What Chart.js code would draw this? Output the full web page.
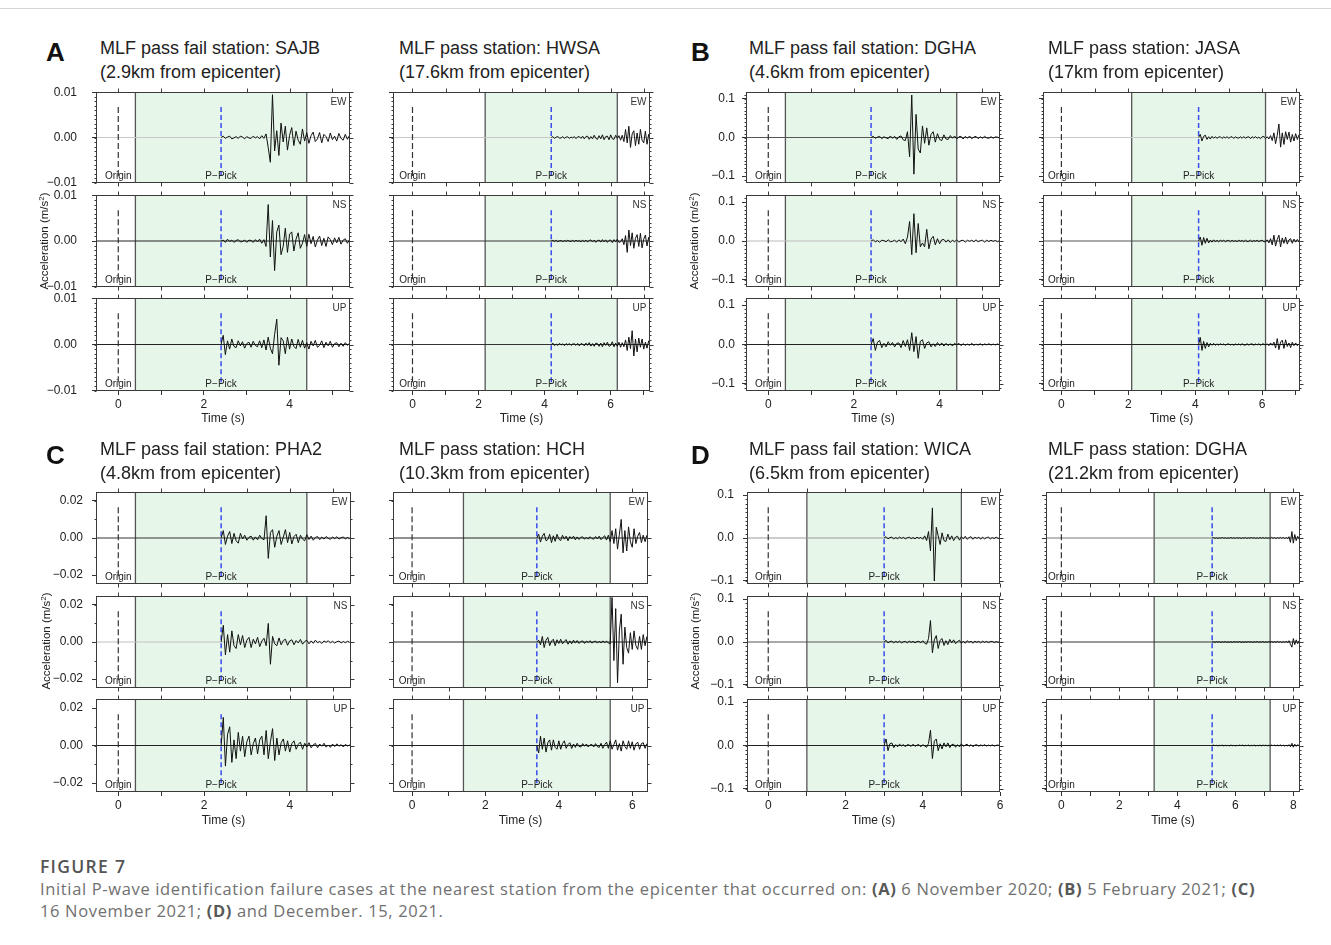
<!DOCTYPE html>
<html>
<head>
<meta charset="utf-8">
<script src="https://cdn.jsdelivr.net/npm/chart.js@4.4.1/dist/chart.umd.min.js"></script>
<style>
  body { margin: 0; background: #fff; }
  #fig { position: relative; width: 1331px; height: 945px; overflow: hidden; font-family: "Liberation Sans", Arial, sans-serif; color: #222; }
  #fig canvas { position: absolute; }
  .t { position: absolute; white-space: nowrap; }
  .letter { font-size: 26px; font-weight: bold; line-height: 30px; color: #111; }
  .title { font-size: 18px; line-height: 24px; color: #222; }
  .axt { font-size: 12px; line-height: 14px; transform: translate(-50%, -50%); }
  .rot { font-size: 11.5px; transform: translate(-50%, -50%) rotate(-90deg); }
  .rule { position: absolute; left: 0; top: 8px; width: 1331px; border-top: 1px solid #d6d6d6; }
  .fig7 { font-family: "Open Sans", "Noto Sans", sans-serif; font-weight: 600; font-size: 17.5px; line-height: 24px; color: #555; letter-spacing: 1.3px; }
  .cap { font-family: "Open Sans", "Noto Sans", sans-serif; font-size: 16.5px; line-height: 21.5px; color: #707070; letter-spacing: 0.65px; }
  .cap b { color: #585858; }
</style>
</head>
<body>
<div id="fig"><div class="rule"></div></div>
<script>
// ---- station info ----
const stationNames = ['SAJB', 'HWSA', 'DGHA', 'JASA', 'PHA2', 'HCH', 'WICA', 'DGHA'];
const stationKinds = ['MLF pass fail station', 'MLF pass station', 'MLF pass fail station', 'MLF pass station',
                      'MLF pass fail station', 'MLF pass station', 'MLF pass fail station', 'MLF pass station'];
const distances = ['2.9km', '17.6km', '4.6km', '17km', '4.8km', '10.3km', '6.5km', '21.2km'];
const pickTimes = [2.4, 4.2, 2.4, 4.1, 2.4, 3.4, 3.0, 5.2];
const windowStart = [0.4, 2.2, 0.4, 2.1, 0.4, 1.4, 1.0, 3.2];
const windowEnd = [4.4, 6.2, 4.4, 6.1, 4.4, 5.4, 5.0, 7.2];
const components = ['EW', 'NS', 'UP'];
const panelLetters = ['A', 'B', 'C', 'D'];

// ---- tick labels ----
const tickSeconds = [0, 1, 2, 3, 4, 5, 6, 7, 8];
const yTicksA = [-0.01, 0, 0.01];
const yTicksB = [-0.1, 0, 0.1];
const yTicksC = [-0.02, 0, 0.02];
const yTicksD = [-0.1, 0, 0.1];

// ---- traces, one sample every 0.05 s from the P-pick ----
const DT = 0.05;
const MILLI = 0.001;   // panels A and C values below are in 1e-3 m/s^2
const CENTI = 0.01;    // panels B and D values below are in 1e-2 m/s^2

const sajbEW = [0,.3,-.2,.1,.3,-.3,-.1,.2,-.2,.3,.1,-.3,.2,-.1,-.2,.3,-.1,.2,-.3,.4,-.2,
  .8,-2.2,-5.5,9.5,-3,1.5,-4,3.2,-1,2.5,-2.8,.5,2.2,-1.8,1.4,-.6,-1.5,1.9,-.8,1.1,
  -1.3,.4,1.2,-.9,-.3,1.1,-1.2,.7,.2,-.9,1,-.5,.3,-.8,.9,-.2,-.6,.7,-.4,.5];
const sajbNS = [0,.2,-.3,.4,-.1,.2,-.3,.1,.3,-.2,-.1,.2,-.3,.2,.1,-.3,.3,-.2,.4,-.5,.3,
  -1.2,8,-3.5,4.5,-6.5,2,3.5,-3,-1.2,2.8,-2.5,1.5,2,-2.2,.4,1.8,-1.6,-.5,1.4,-1.2,
  1.5,-.6,1,-1.3,.2,1.1,-1,.6,-1.2,.9,.3,-.8,.7,-.4,.8,-.7,.2,.5,-.5,.3];
const sajbUP = [0,2,-2.2,.8,-1,1.2,-.4,-.7,.8,-.3,.6,-.8,.2,.5,-.6,.7,-.2,-.5,.8,-.7,1,
  -1.2,1.6,-.8,-2,2.2,5.5,-4.5,1.5,.8,-2,1.6,-1,1.2,-.4,-.9,1.1,-.6,.9,-.8,.4,
  -1,.7,-.3,.9,-.6,-.2,.8,-.7,.5,-.3,.7,-.6,.2,.4,-.5,.3,-.4,.4,-.2,.3];

const hwsaEW = [0,.2,-.2,.1,.2,-.15,-.1,.2,-.2,.1,.15,-.2,.1,-.1,.2,-.25,.15,.2,-.2,.3,
  -.3,.2,.3,-.4,.2,-.3,.5,-.2,-.4,.4,-.3,.6,-.5,.2,.3,-.5,.6,-.3,-.4,.5,-.2,.4,-.6,.5,
  -.9,1.8,-1.2,2.5,-2.2,.8,1.5,-1.8,1,-1.5,1.8,-.6,-1.2,1.4,-1.5,.7,-1];
const hwsaNS = [0,.15,-.1,.15,-.15,.05,.1,-.15,.1,-.1,.15,-.05,-.1,.15,-.15,.2,-.1,.1,-.2,.15,
  -.15,.2,-.2,.1,.25,-.2,.2,-.3,.1,.2,-.25,.3,-.2,.25,-.3,.15,.2,-.35,.3,-.2,.4,-.3,-.2,.5,
  -.8,1.2,-2.5,2.4,-1,1.8,-1.6,.6,1.4,-1.2,1.7,-1.5,.4,1.3,-1.1,.8,-.9];
const hwsaUP = [0,.3,-.25,.1,-.2,.25,-.1,.15,-.25,.2,-.1,.2,-.2,.1,.15,-.2,.25,-.3,.2,.1,
  -.3,.3,-.2,.4,-.35,.2,-.4,.3,.2,-.4,.3,-.5,.4,-.2,.5,-.4,-.2,.6,-.5,.3,-.4,.5,-.6,.4,
  -.5,1,-1.3,1.6,-.9,3,-2.5,1.2,-1.6,1.4,-.6,1.2,-1,.5,-.8,.8,-.5];

const dghaEW = [0,.3,-.2,.1,.3,-.3,.2,-.1,-.3,.4,-.2,.3,-.5,.2,.4,-.6,-.8,1.5,
  -5,11,-9.5,6,-3,-4,3,-1.5,2.5,-2,.8,1.5,-1.2,1,-.5,-.8,.7,-.4,
  -.5,.5,-.2,.4,-.4,.2,.3,-.4,.3,-.2,.4,-.3,.1,.3,-.3,.2,-.2,.3,-.1,-.2,.2,-.2,.15,.1,-.2];
const dghaNS = [0,.3,-.2,.1,-.3,.2,.1,-.2,.3,-.2,-.1,.2,-.3,.3,-.2,.5,-.7,1,
  5,-3.5,7,-3,4.5,-1.5,-.5,-1.5,3,-2,.5,1.2,-1,.6,-.7,.3,.4,-.3,
  .3,-.4,.2,-.2,.3,-.3,.1,.2,-.3,.2,-.1,.2,-.2,.3,-.2,.1,.2,-.3,.2,-.15,.2,-.1,.15,-.2,.1];
const dghaUP = [0,1.5,-1.5,.6,1,-.8,.3,-.6,.7,-.2,.5,-.6,.3,.4,-.8,1,-.5,1.2,
  -1.5,3,-1.8,2,-3.5,.8,1.2,-1,.4,.7,-.6,.2,-.5,.5,-.3,.4,-.4,.3,
  -.3,.2,-.4,.3,-.1,.3,-.3,.2,-.2,.1,-.2,.3,-.2,.1,-.15,.2,-.2,.15,-.1,.2,-.15,.1,-.1,.15,-.1];

const jasaEW = [0,.8,-.9,.3,.6,-.5,.2,-.4,.3,-.2,
  .2,-.2,.1,.2,-.25,.15,-.1,.2,-.2,.1,.2,-.25,.2,-.1,-.15,.2,-.2,.25,-.2,.1,.2,-.3,.2,-.15,.25,-.2,.1,-.3,.2,.3,
  -.3,.2,-.4,.5,-.8,1.2,-1.6,.6,3.5,-2.5,1.2,-1.8,1.5,-.5,1.4,-1.2,.8,-.9,1,-.5,.7];
const jasaNS = [0,1,-1.1,.9,-.6,.7,-.5,.2,-.3,.3,
  -.2,.15,-.2,.2,-.1,.2,-.2,.1,.15,-.2,.2,-.15,.1,-.2,.2,-.1,.15,-.2,.2,-.15,-.1,.2,-.2,.15,-.1,.2,-.2,.1,.2,-.2,
  -.2,.3,-.5,.6,-1,1.5,-1.3,.4,1.5,-1.5,.8,-.6,1,-.8,.3,.6,-.6,.5,-.3,.4,-.3];
const jasaUP = [0,1.8,-1.5,.8,-1,.5,-.6,.3,-.2,.3,
  -.2,.15,-.15,.2,-.1,.15,-.2,.1,.15,-.15,.1,-.2,.15,-.1,.15,-.15,.2,-.1,-.15,.2,-.15,.1,.15,-.2,.15,-.1,.2,-.2,.1,.15,
  -.2,.2,-.3,.4,-.2,.6,-.9,1.5,-1.3,.6,1.1,-1,1.2,-.5,.4,-.8,.6,-.3,.4,-.3,.2];

const pha2EW = [0,4,-3.5,1,3.5,-3,2.5,-1.5,-2.8,2.5,-.5,1.5,-1.2,.4,1,-1.2,.6,-1,1.5,-.3,-1,
  12,-11,3,4.5,-5,1,4,-3.5,.5,4.5,-2.5,3,-3.2,.8,2,-2.5,1.5,-.6,-1.5,1.8,
  -.8,1,-1.2,.3,.8,-.9,.5,-.6,.8,-.2,-.7,.6,-.4,.7,-.6,.2,.5,-.5,.3,-.4];
const pha2NS = [0,9,-7,4,-5.5,6,-2,-3.5,4,-1.5,3.5,-3,1,2.5,-3,1.5,-1,2.5,-2.5,.5,2,
  -2,10,-12,3,-1,-2,2.2,-1.5,.8,1.5,-1.8,.6,1.2,-1.5,.8,-.5,1.4,-1.2,.3,.9,
  -1,.6,-.7,1,-.4,.3,-.8,.6,-.2,.7,-.5,.4,-.6,.2,.5,-.5,.3,-.4,.4,-.2];
const pha2UP = [0,15,-11,6,10,-9,3,-7,7,-3,5,-6,2,5,-5,1,4,-4.5,3,5,-5,
  8,-7,2,9,-8,4,-5,1.5,3.5,-3,2.5,-3.5,1,2.5,-2,.6,1.8,-2,1.2,-.8,
  1.5,-1.2,.4,1.1,-1.2,.8,-.4,1.2,-.9,.3,-1,.8,-.6,.9,-.4,.5,-.8,.6,-.3,.4];

const hchEW = [0,2,-2.2,1,2.5,-1.5,-.8,2,-2.5,1.2,-1.8,2,-.6,
  -1.4,1.5,-.6,1,-1.5,.8,-.4,1,-1,.6,-.8,.4,.6,-.7,.4,-.6,.7,-.3,-.6,.8,-.5,1,-.9,.3,1.2,-1.1,1.5,
  -2,4,-3,5,-6,2,10,-8,4,-7,6,-2,-5,5,-3,1,3,-2.5,1.5,-2,1.5];
const hchNS = [0,1,-1.5,3,-3,1,2.5,-2,.5,1.5,-2,1.2,-.8,
  1.5,-1,.4,1.3,-1.2,.6,-1,1,-.6,.8,-.8,.3,.6,-.8,.5,-.3,.7,-.6,.2,.5,-.6,.4,-.5,.6,-.3,.4,-.5,
  -1,24,-10,18,-22,6,15,-12,8,-3,-6,5,-4,6,-2,-4,3,-4,4,-2,3];
const hchUP = [0,-4,5,-2,4,-3.5,1.5,3,-2.5,3,-1,-2,2.5,
  -2,1,2.5,-1.5,.5,1.5,-1.6,.8,-1,1.2,-.5,-.8,1,-.4,.8,-.8,.3,.6,-.8,1,-.6,-1,1.2,-1.5,.5,1.8,-1.5,
  2.5,-2,.5,3,-2.5,1,-3,2.5,-.5,-2,2.5,-1.5,2,-2.5,.8,1.8,-2,1,1.5,-1.5,1];

const wicaEW = [0,.3,-.2,.1,.2,-.2,.1,-.15,.2,-.1,.15,-.2,.05,.2,-.15,.1,-.2,.2,-.1,.15,-.3,.5,-.6,1.5,
  -3,7,-10,2.5,.5,-1.5,1.2,-.6,-.8,.9,-.4,.5,-.6,.2,.4,-.5,.3,-.2,.4,-.3,.1,.3,-.3,.2,-.1,.2,-.3,.2,-.2,.1,.2,-.2,.1,-.15,.2,-.1,-.15];
const wicaNS = [0,.4,-.2,.1,.2,-.2,.15,-.1,.2,-.2,.05,.15,-.2,.2,-.1,.15,-.2,.1,.15,-.2,.3,-.3,-.5,.8,
  5,-2.5,.5,1.5,-1.5,.4,.8,-.8,.3,-.6,.6,-.2,.5,-.4,.1,.4,-.3,.2,-.3,.3,-.1,.2,-.3,.2,-.1,.15,-.2,.2,-.1,.15,-.15,.1,.15,-.15,.1,-.1,.1];
const wicaUP = [0,1.5,-1.2,.4,.6,-.5,.2,-.3,.3,-.1,.2,-.3,.2,.1,-.2,.3,-.2,.1,.2,-.3,.2,-.1,-.4,.5,
  3.5,-3,1,1.5,-1.2,.4,-.8,.6,-.3,.6,-.5,.2,.3,-.4,.2,-.3,.4,-.2,.1,.3,-.2,.2,-.3,.1,.2,-.2,.15,-.1,.2,-.15,.1,-.1,.15,-.15,.05,.1,-.1];

const dgha21EW = [0,.1,-.1,.05,-.1,.05,-.05,.1,-.05,.05,-.1,.05,-.05,.1,-.05,.05,-.1,.1,-.05,.05,
  -.1,.05,-.05,.1,-.1,.05,-.05,.1,-.05,.1,-.1,.05,-.1,.1,-.05,.1,-.1,.1,-.1,.05,
  -.1,.15,-.1,.1,-.15,.1,-.1,.15,-.1,.15,-.2,.15,-.2,.3, -1,1.5,-1.2,.8,-.6,.4,-.3];
const dgha21NS = [0,.05,-.1,.1,-.05,.05,-.1,.05,-.05,.1,-.1,.05,-.05,.05,-.1,.1,-.05,.05,-.05,.1,
  -.1,.05,-.1,.05,-.05,.1,-.05,.05,-.1,.05,-.05,.1,-.1,.05,-.05,.1,-.1,.05,-.1,.1,
  -.05,.1,-.1,.1,-.1,.15,-.1,.1,-.15,.1,-.15,.2,-.2,.3, -.5,-1.2,.8,-.6,.5,-.4,.3];
const dgha21UP = [0,.1,-.05,.05,-.1,.05,-.05,.1,-.1,.05,-.05,.05,-.1,.1,-.05,.05,-.1,.05,-.05,.1,
  -.05,.1,-.1,.05,-.05,.1,-.1,.05,-.05,.1,-.1,.05,-.05,.1,-.1,.1,-.05,.1,-.1,.05,
  -.1,.1,-.05,.1,-.1,.1,-.1,.15,-.1,.1,-.15,.1,-.15,.2, -.3,.5,-.4,.3,-.2,.2,-.1];

const traces = [
  [sajbEW, sajbNS, sajbUP], [hwsaEW, hwsaNS, hwsaUP],
  [dghaEW, dghaNS, dghaUP], [jasaEW, jasaNS, jasaUP],
  [pha2EW, pha2NS, pha2UP], [hchEW, hchNS, hchUP],
  [wicaEW, wicaNS, wicaUP], [dgha21EW, dgha21NS, dgha21UP]
];

// ---- layout and styling ----
const groups = [
  { yMax: 0.0101, ticks: yTicksA, dec: 2, minor: 0.001, unit: MILLI, pad: 15 },
  { yMax: 0.118, ticks: yTicksB, dec: 1, minor: 0.01, unit: CENTI, pad: 7 },
  { yMax: 0.0248, ticks: yTicksC, dec: 2, minor: 0.01, unit: MILLI, pad: 9 },
  { yMax: 0.107, ticks: yTicksD, dec: 1, minor: 0.01, unit: CENTI, pad: 9 }
];
const cols = [
  { left: 96, right: 350, xMin: -0.52, xMax: 5.41, zero: ['#c8c8c8', '#222', '#222'] },
  { left: 393, right: 650, xMin: -0.59, xMax: 7.19, zero: ['#c8c8c8', '#333', '#333'] },
  { left: 746, right: 1000, xMin: -0.52, xMax: 5.41, zero: ['#555', '#bbb', '#222'] },
  { left: 1043, right: 1300, xMin: -0.55, xMax: 7.13, zero: ['#c8c8c8', '#555', '#222'] },
  { left: 96, right: 351, xMin: -0.52, xMax: 5.43, zero: ['#333', '#c0c0c0', '#222'] },
  { left: 393, right: 648, xMin: -0.52, xMax: 6.43, zero: ['#222', '#222', '#222'] },
  { left: 747, right: 1000, xMin: -0.55, xMax: 6.0, zero: ['#999', '#555', '#222'] },
  { left: 1046, right: 1300, xMin: -0.53, xMax: 8.23, zero: ['#777', '#333', '#222'] }
];
const rowsTop = [[92, 183], [195, 287], [298, 391]];
const rowsBottom = [[492, 584], [596, 688], [699, 792]];
const PAD_L = 50, PAD_R = 10, PAD_T = 8, PAD_B = 8, X_AXIS_H = 26;

Chart.defaults.font.family = '"Liberation Sans", Arial, sans-serif';
Chart.defaults.color = '#222';

const fig = document.getElementById('fig');

function fmtY(v, dec) {
  const s = Math.abs(v).toFixed(dec);
  return v < 0 ? '\u2212' + s : s;
}

const decor = {
  id: 'decor',
  afterDatasetsDraw(chart, args, o) {
    const { ctx, chartArea: a, scales: { x, y } } = chart;
    const L = Math.round(a.left) + .5, R = Math.round(a.right) - .5;
    const T = Math.round(a.top) + .5, B = Math.round(a.bottom) - .5;
    ctx.save();
    ctx.strokeStyle = '#3a3a3a';
    ctx.lineWidth = 1;
    ctx.strokeRect(L, T, R - L, B - T);
    ctx.beginPath();
    tickSeconds.forEach(t => {
      if (t < x.min || t > x.max) return;
      const px = Math.round(x.getPixelForValue(t)) + .5;
      ctx.moveTo(px, T); ctx.lineTo(px, T - 4);
      if (!o.bottom) { ctx.moveTo(px, B); ctx.lineTo(px, B + 4); }
    });
    const kMin = Math.ceil(y.min / o.minor - 1e-6), kMax = Math.floor(y.max / o.minor + 1e-6);
    for (let k = kMin; k <= kMax; k++) {
      const v = k * o.minor;
      const py = Math.round(y.getPixelForValue(v)) + .5;
      const major = o.majors.some(m => Math.abs(m - v) < 1e-9);
      ctx.moveTo(L, py); ctx.lineTo(L - 2, py);
      ctx.moveTo(R, py); ctx.lineTo(R + (major ? 4 : 2), py);
    }
    ctx.stroke();
    ctx.font = '10px "Liberation Sans", Arial, sans-serif';
    ctx.fillStyle = '#222';
    ctx.textAlign = 'center';
    ctx.textBaseline = 'alphabetic';
    ctx.fillText('Origin', x.getPixelForValue(0), B - 4);
    ctx.fillText('P\u2212Pick', x.getPixelForValue(o.pick), B - 4);
    ctx.textAlign = 'right';
    ctx.fillStyle = '#333';
    ctx.fillText(o.comp, R - 3, T + 12);
    ctx.restore();
  }
};

function addPlot(ci, ri) {
  const col = cols[ci];
  const g = groups[Math.floor(ci / 2)];
  const [top, bottom] = (ci < 4 ? rowsTop : rowsBottom)[ri];
  const isBottom = ri === 2;
  const showY = ci % 2 === 0;
  const padB = isBottom ? X_AXIS_H : PAD_B;
  const cv = document.createElement('canvas');
  cv.width = col.right - col.left + PAD_L + PAD_R;
  cv.height = bottom - top + PAD_T + padB;
  cv.style.left = (col.left - PAD_L) + 'px';
  cv.style.top = (top - PAD_T) + 'px';
  fig.appendChild(cv);

  const pick = pickTimes[ci], w0 = windowStart[ci], w1 = windowEnd[ci];
  const yMin = -g.yMax, yMax = g.yMax;
  const trace = traces[ci][ri].map((v, i) => ({ x: pick + i * DT, y: v * g.unit }));
  const line = (data, color, width, dash) => ({
    data, borderColor: color, borderWidth: width, borderDash: dash || [], pointRadius: 0, tension: 0, fill: false
  });

  new Chart(cv, {
    type: 'line',
    data: {
      datasets: [
        line(trace, '#111', 1),
        line([{ x: 0, y: yMax * 0.67 }, { x: 0, y: yMax * -0.85 }], '#333', 1.2, [6, 3]),
        line([{ x: pick, y: yMax * 0.67 }, { x: pick, y: yMax * -0.85 }], '#3b4cf0', 1.5, [5, 3]),
        line([{ x: col.xMin, y: 0 }, { x: col.xMax, y: 0 }], col.zero[ri], 1),
        line([{ x: w0, y: yMin }, { x: w0, y: yMax }], '#555', 1.3),
        line([{ x: w1, y: yMin }, { x: w1, y: yMax }], '#555', 1.3),
        { data: [{ x: w0, y: yMax }, { x: w1, y: yMax }], borderWidth: 0, pointRadius: 0,
          fill: 'start', backgroundColor: '#e6f7e9' }
      ]
    },
    options: {
      responsive: false,
      animation: false,
      events: [],
      devicePixelRatio: 1,
      layout: { padding: { left: 0, right: PAD_R, top: PAD_T, bottom: isBottom ? 0 : PAD_B } },
      plugins: {
        legend: { display: false },
        tooltip: { enabled: false },
        decor: { pick, comp: components[ri], minor: g.minor, majors: g.ticks, bottom: isBottom }
      },
      scales: {
        x: {
          type: 'linear', min: col.xMin, max: col.xMax, display: isBottom,
          afterBuildTicks: s => { s.ticks = tickSeconds.filter(t => t >= col.xMin && t <= col.xMax).map(v => ({ value: v })); },
          afterFit: s => { if (isBottom) s.height = X_AXIS_H; s.paddingLeft = 0; s.paddingRight = 0; },
          ticks: { font: { size: 12 }, color: '#222', padding: 2, maxRotation: 0, autoSkip: false,
                   callback: v => (v % 2 === 0 ? String(v) : '') },
          grid: { drawOnChartArea: false, drawTicks: true, tickLength: 4, color: '#333' },
          border: { display: false }
        },
        y: {
          type: 'linear', min: yMin, max: yMax,
          afterBuildTicks: s => { s.ticks = g.ticks.map(v => ({ value: v })); },
          afterFit: s => { s.width = PAD_L; s.paddingTop = 0; s.paddingBottom = 0; },
          ticks: { display: showY, font: { size: 12 }, color: '#222', padding: g.pad,
                   callback: v => fmtY(v, g.dec) },
          grid: { drawOnChartArea: false, drawTicks: true, tickLength: 4, color: '#333' },
          border: { display: false }
        }
      }
    },
    plugins: [decor]
  });
}

for (let ci = 0; ci < 8; ci++) for (let ri = 0; ri < 3; ri++) addPlot(ci, ri);

// ---- text ----
function addText(html, cls, left, top) {
  const d = document.createElement('div');
  d.className = 't ' + cls;
  d.innerHTML = html;
  d.style.left = left + 'px';
  d.style.top = top + 'px';
  fig.appendChild(d);
  return d;
}

const titleLeft = [100, 399, 749, 1048, 100, 399, 749, 1048];
for (let ci = 0; ci < 8; ci++) {
  const top = ci < 4 ? 36 : 437;
  addText(stationKinds[ci] + ': ' + stationNames[ci] + '<br>(' + distances[ci] + ' from epicenter)', 'title', titleLeft[ci], top);
  const col = cols[ci];
  addText('Time (s)', 'axt', (col.left + col.right) / 2, ci < 4 ? 418 : 820);
}
[[46, 37], [691, 37], [46, 440], [691, 440]].forEach((p, i) => addText(panelLetters[i], 'letter', p[0], p[1]));
[[43, 241], [693, 241], [45, 641], [694, 641]].forEach(p => addText('Acceleration (m/s<sup style="font-size:8px">2</sup>)', 'axt rot', p[0], p[1]));

addText('FIGURE 7', 'fig7', 40, 854);
addText('Initial P-wave identification failure cases at the nearest station from the epicenter that occurred on: <b>(A)</b> 6 November 2020; <b>(B)</b> 5 February 2021; <b>(C)</b><br>16 November 2021; <b>(D)</b> and December. 15, 2021.', 'cap', 40, 878);
</script>
</body>
</html>
